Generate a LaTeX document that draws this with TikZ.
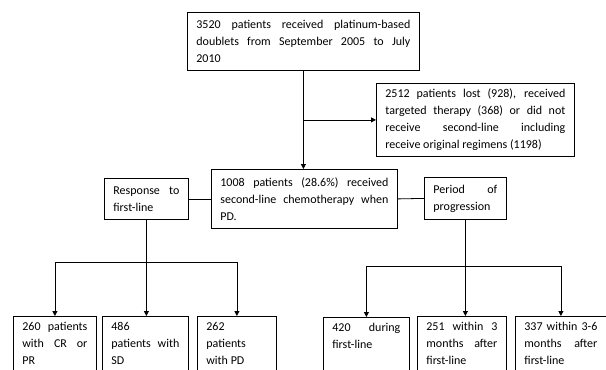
\documentclass[tikz,border=0pt]{standalone}
\usepackage{fontspec}
\setmainfont{Carlito}
\usetikzlibrary{arrows.meta}
\newcommand\myparset{\hyphenpenalty=10000 \exhyphenpenalty=10000 \tolerance=10000 \hbadness=10000 \relax}
\begin{document}
\begin{tikzpicture}[x=1pt,y=-1pt,
  box/.style={draw, line width=0.8pt, anchor=north west, inner xsep=9pt, inner ysep=5pt,
    align=justify, font=\fontsize{12}{17}\selectfont\myparset},
  txt/.style={box, draw=none},
  arr/.style={line width=0.8pt, -{Triangle[length=5pt,width=5pt]}},
  ln/.style={line width=0.8pt}]
\useasboundingbox (0,0) rectangle (606,370);
\clip (0,0) rectangle (606,370);
\node[box, text width=214pt, minimum height=58pt] (top) at (187,12)
  {3520 patients received platinum-based\linebreak doublets from September 2005 to July\linebreak 2010};
\node[box, text width=180pt, minimum height=73pt] (right) at (376,83)
  {2512 patients lost (928), received\linebreak targeted therapy (368) or did not\linebreak receive second-line including\linebreak receive original regimens (1198)};
\node[box, text width=168pt, minimum height=59pt] (mid) at (211,169)
  {1008 patients (28.6\%) received\linebreak second-line chemotherapy when\linebreak PD.};
\node[box, text width=66pt, minimum height=41pt] (resp) at (104,178)
  {Response to\linebreak first-line};
\node[box, text width=64pt, minimum height=42pt] (per) at (424,177)
  {Period of\linebreak progression};
\node[txt, text width=65pt, inner ysep=6pt] (b1) at (13,316) {260 patients\linebreak with CR or\linebreak PR};
\node[txt, text width=68pt, inner ysep=6pt] (b2) at (102,316) {486\\ patients with\linebreak SD};
\node[txt, text width=61pt, inner ysep=6pt] (b3) at (197,316) {262\\ patients\\ with PD};
\node[txt, text width=68pt, inner ysep=6pt] (b4) at (323,317) {420 during\linebreak first-line};
\node[txt, text width=71pt, inner ysep=6pt] (b5) at (417,316) {251 within 3\linebreak months after\linebreak first-line};
\node[txt, text width=73pt, inner ysep=6pt] (b6) at (515,316) {337 within 3-6\linebreak months after\linebreak first-line};
\foreach \b in {b1,b2,b3,b4,b5,b6}
  \draw[ln] (\b.north west) rectangle (\b.north east |- 0,400);
\draw[arr] (top.south) -- (top.south |- mid.north);
\coordinate (br) at (top.south |- right.west);
\draw[arr] (br) -- (right.west);
\draw[ln] (resp.east) -- (mid.west);
\draw[ln] (mid.east) -- (per.west);
\coordinate (j1) at (resp.south |- 0,262);
\draw[ln] (resp.south) -- (j1);
\draw[arr] (j1) -- (j1 |- b2.north);
\draw[arr] (j1) -| (b1.north);
\draw[arr] (j1) -| (b3.north);
\coordinate (j2) at (per.south |- 0,266);
\draw[ln] (per.south) -- (j2);
\draw[arr] (j2) -- (j2 |- b5.north);
\draw[arr] (j2) -| (b4.north);
\draw[arr] (j2) -| (b6.north);
\end{tikzpicture}
\end{document}
